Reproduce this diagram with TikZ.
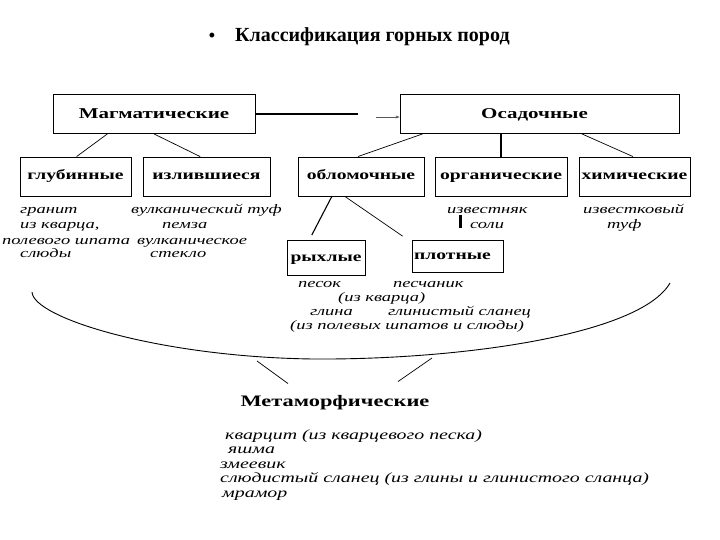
\documentclass[tikz,border=0pt]{standalone}
\usepackage{fontspec}
\setmainfont{Liberation Serif}
\newfontfamily\boxf[FakeStretch=1.4]{Liberation Serif}
\newfontfamily\itf[FakeStretch=1.42]{Liberation Serif}
\usetikzlibrary{arrows.meta,calc}
\tikzset{
  rockbox/.style={draw, line width=0.9pt, inner sep=0pt, text height=7pt, text depth=0pt, font=\boxf\bfseries\fontsize{14}{16}\selectfont},
  conn/.style={line width=0.7pt},
  ex/.style={anchor=base west, inner sep=0pt, font=\itf\itshape\fontsize{13}{15}\selectfont},
  exbig/.style={ex, font=\itf\itshape\fontsize{14}{16}\selectfont},
}
\begin{document}
\begin{tikzpicture}[x=1pt,y=-1pt]
\useasboundingbox[fill=white] (0,0) rectangle (720,540);
% title
\node[inner sep=0pt, font=\bfseries\fontsize{18}{20}\selectfont] (bul) at (212,37) {•};
\node[anchor=west, inner sep=0pt, font=\bfseries\fontsize{20}{24}\selectfont] (title) at (235,37) {Классификация горных пород};
% top boxes
\node[rockbox, minimum width=202pt, minimum height=39pt, text height=10pt, font=\boxf\bfseries\fontsize{15}{17}\selectfont] (mag) at (154,114) {Магматические};
\node[rockbox, minimum width=279pt, minimum height=39pt, text height=10pt, font=\boxf\bfseries\fontsize{15}{17}\selectfont] (osad) at (539.5,114) {\hspace{-10pt}Осадочные};
% second row
\node[rockbox, minimum width=111pt, minimum height=39pt] (glub) at (75.5,176.5) {глубинные};
\node[rockbox, minimum width=127pt, minimum height=39pt] (izl) at (206.5,176.5) {излившиеся};
\node[rockbox, minimum width=126pt, minimum height=39pt] (oblom) at (361,176.5) {обломочные};
\node[rockbox, minimum width=132pt, minimum height=39pt] (org) at (501,176.5) {органические};
\node[rockbox, minimum width=111pt, minimum height=39pt] (xim) at (634.5,176.5) {химические};
% third row
\node[rockbox, minimum width=78pt, minimum height=35pt] (ryx) at (326,257.5) {рыхлые};
\node[rockbox, minimum width=91pt, minimum height=32pt] (plot) at (457.5,256) {\hspace{-10pt}плотные};
% connectors
\draw[conn] ($(mag.south west)!0.27!(mag.south east)$) -- ($(glub.north west)!0.51!(glub.north east)$);
\draw[conn] ($(mag.south west)!0.5!(mag.south east)$) -- ($(izl.north west)!0.45!(izl.north east)$);
\coordinate (lend) at (358,114);
\draw[line width=2.5pt] (mag.east) -- (lend);
\coordinate (astart) at (376,117);
\draw[line width=0.5pt, gray!70!black, -{Stealth[length=4pt,width=3pt]}] (astart) -- (osad.west |- astart);
\draw[conn] ($(osad.south west)!0.082!(osad.south east)$) -- ($(oblom.north west)!0.476!(oblom.north east)$);
\draw[line width=1.6pt] (osad.south -| org.north) -- (org.north);
\draw[conn] ($(osad.south west)!0.652!(osad.south east)$) -- ($(xim.north west)!0.486!(xim.north east)$);
\draw[line width=1.1pt, shorten >=5pt] ($(oblom.south west)!0.27!(oblom.south east)$) -- ($(ryx.north west)!0.29!(ryx.north east)$);
\draw[conn, shorten >=6pt] ($(oblom.south west)!0.373!(oblom.south east)$) -- ($(plot.north west)+(-4,0)$);
% examples
\node[ex] (e1) at (20,214) {гранит};
\node[ex] (e2) at (20,229) {из кварца,};
\node[ex] (e3) at (2,244) {полевого шпата};
\node[ex] (e4) at (20,258) {слюды};
\node[ex] (e5) at (131,214) {вулканический туф};
\node[ex] (e6) at (162,229) {пемза};
\node[ex] (e7) at (137,244) {вулканическое};
\node[ex] (e8) at (150,258) {стекло};
\node[ex] (e9) at (447,214) {известняк};
\node[ex] (e10) at (470,229) {соли};
\coordinate (bar1) at (460,215);
\coordinate (bar2) at (460,228);
\draw[line width=3pt] (bar1) -- (bar2);
\node[ex] (e11) at (583,214) {известковый};
\node[ex] (e12) at (607,229) {туф};
\node[ex] (e13) at (298,287) {песок};
\node[ex] (e14) at (393,287) {песчаник};
\node[ex] (e15) at (338,301) {(из кварца)};
\node[ex] (e16) at (310,315) {глина};
\node[ex] (e17) at (388,315) {глинистый сланец};
\node[ex] (e18) at (290,329) {(из полевых шпатов и слюды)};
% big curve
\coordinate (cl) at (32,292);
\coordinate (cbot) at (313,359);
\coordinate (cr) at (670,283);
\draw[line width=0.9pt] (cl) .. controls (33,318) and (160,357) .. (cbot) .. controls (460,360) and (640,335) .. (cr);
% metamorphic
\node[inner sep=0pt, font=\boxf\bfseries\fontsize{16}{18}\selectfont] (meta) at (335,403) {Метаморфические};
\coordinate (m1) at (257,361);
\coordinate (m2) at (432,358);
\draw[conn] (m1) -- ($(meta.north)+(-47,-12)$);
\draw[conn] (m2) -- ($(meta.north)+(63,-14)$);
\node[exbig] (f1) at (225,439) {кварцит (из кварцевого песка)};
\node[exbig] (f2) at (228,453) {яшма};
\node[exbig] (f3) at (220,468) {змеевик};
\node[exbig] (f4) at (220,482) {слюдистый сланец (из глины и глинистого сланца)};
\node[exbig] (f5) at (222,497) {мрамор};
\end{tikzpicture}
\end{document}
